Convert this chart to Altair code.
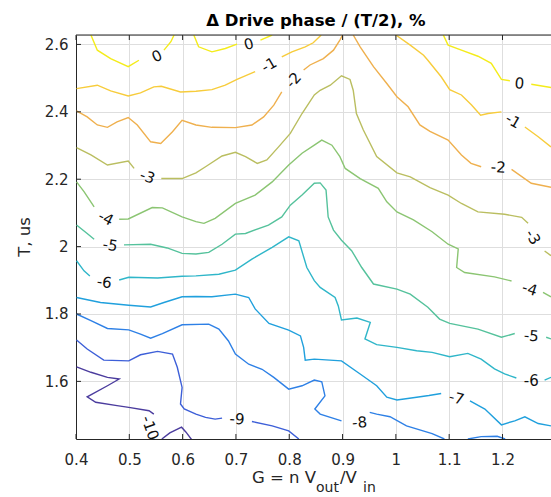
import altair as alt
import pandas as pd

# ---------------- data ----------------
LEVELS = ["0", "-1", "-2", "-3", "-4", "-5", "-6", "-7", "-8", "-9", "-10"]
LEVEL_COLORS = ["#F4EC1A", "#F7CC3B", "#EFB04E", "#BABE60", "#8BC572", "#55C29C",
                "#2FB6C9", "#20A0DD", "#2E80E6", "#3D5FD8", "#4B3C9E"]

X_TICKS = [0.4, 0.5, 0.6, 0.7, 0.8, 0.9, 1.0, 1.1, 1.2]
Y_TICKS = [1.6, 1.8, 2.0, 2.2, 2.4, 2.6]
X_DOMAIN = [0.4, 1.291]
Y_DOMAIN = [1.429, 2.628]

# level 0
L0_A_X = [0.428, 0.440, 0.465, 0.498, 0.518]
L0_A_Y = [2.628, 2.583, 2.558, 2.534, 2.553]
L0_B_X = [0.565, 0.578, 0.584]
L0_B_Y = [2.583, 2.608, 2.628]
L0_C_X = [0.621, 0.630, 0.655, 0.680, 0.702]
L0_C_Y = [2.628, 2.593, 2.578, 2.588, 2.601]
L0_D_X = [0.746, 0.768]
L0_D_Y = [2.613, 2.628]
L0_E_X = [1.089, 1.098, 1.123, 1.154, 1.179, 1.198, 1.214]
L0_E_Y = [2.628, 2.598, 2.583, 2.565, 2.544, 2.496, 2.492]
L0_F_X = [1.254, 1.291]
L0_F_Y = [2.482, 2.472]
# level -1
L1_A_X = [0.401, 0.440, 0.465, 0.498, 0.521, 0.546, 0.560, 0.596, 0.625, 0.655, 0.680, 0.702, 0.736]
L1_A_Y = [2.469, 2.479, 2.462, 2.447, 2.456, 2.474, 2.476, 2.459, 2.461, 2.466, 2.479, 2.496, 2.519]
L1_B_X = [0.786, 0.805, 0.830, 0.845, 0.860]
L1_B_Y = [2.563, 2.578, 2.593, 2.605, 2.628]
L1_C_X = [1.000, 1.027, 1.052, 1.060, 1.085, 1.101, 1.123, 1.142, 1.159, 1.173, 1.198]
L1_C_Y = [2.628, 2.598, 2.568, 2.553, 2.504, 2.466, 2.450, 2.420, 2.390, 2.395, 2.400]
L1_D_X = [1.242, 1.267, 1.291]
L1_D_Y = [2.355, 2.326, 2.296]
# level -2
L2_A_X = [0.401, 0.421, 0.440, 0.459, 0.477, 0.498, 0.515, 0.540, 0.559, 0.581, 0.599, 0.625,
          0.655, 0.699, 0.730, 0.752, 0.771, 0.786]
L2_A_Y = [2.403, 2.385, 2.361, 2.354, 2.370, 2.383, 2.361, 2.311, 2.306, 2.341, 2.375, 2.361,
          2.354, 2.353, 2.361, 2.385, 2.420, 2.459]
L2_B_X = [0.827, 0.839, 0.864, 0.883, 0.895, 0.900]
L2_B_Y = [2.524, 2.539, 2.558, 2.583, 2.613, 2.628]
L2_C_X = [0.920, 0.933, 0.958, 0.983, 1.002, 1.023, 1.045, 1.064, 1.098, 1.123, 1.141, 1.160]
L2_C_Y = [2.628, 2.593, 2.534, 2.484, 2.445, 2.415, 2.361, 2.342, 2.316, 2.272, 2.247, 2.237]
L2_D_X = [1.217, 1.254, 1.291]
L2_D_Y = [2.229, 2.188, 2.176]
# level -3
L3_A_X = [0.401, 0.428, 0.459, 0.498, 0.509]
L3_A_Y = [2.294, 2.272, 2.242, 2.254, 2.232]
L3_B_X = [0.560, 0.599, 0.625, 0.643, 0.674, 0.699, 0.718, 0.740, 0.758, 0.780, 0.802, 0.824,
          0.847, 0.858, 0.877, 0.898, 0.914, 0.920, 0.926, 0.939, 0.964, 1.002, 1.027, 1.064,
          1.098, 1.123, 1.154, 1.204, 1.236, 1.248]
L3_B_Y = [2.202, 2.202, 2.219, 2.237, 2.269, 2.280, 2.267, 2.247, 2.257, 2.296, 2.336, 2.395,
          2.450, 2.464, 2.479, 2.507, 2.496, 2.464, 2.395, 2.346, 2.267, 2.219, 2.207, 2.175,
          2.153, 2.128, 2.103, 2.096, 2.087, 2.069]
L3_C_X = [1.279, 1.291]
L3_C_Y = [1.987, 1.973]
# level -4
L4_A_X = [0.401, 0.415, 0.434]
L4_A_Y = [2.192, 2.163, 2.118]
L4_B_X = [0.481, 0.498, 0.543, 0.562, 0.599, 0.625, 0.640, 0.661, 0.699, 0.736, 0.768, 0.799,
          0.824, 0.847, 0.861, 0.880, 0.895, 0.905, 0.933, 0.967, 0.983, 1.002, 1.033, 1.068,
          1.098, 1.117, 1.114, 1.129, 1.185, 1.217]
L4_B_Y = [2.081, 2.082, 2.116, 2.115, 2.088, 2.074, 2.069, 2.084, 2.128, 2.153, 2.192, 2.242,
          2.277, 2.301, 2.316, 2.301, 2.267, 2.232, 2.202, 2.173, 2.133, 2.103, 2.079, 2.044,
          2.007, 1.993, 1.938, 1.923, 1.910, 1.898]
L4_C_X = [1.276, 1.291]
L4_C_Y = [1.864, 1.851]
# level -5
L5_A_X = [0.401, 0.421, 0.434]
L5_A_Y = [2.064, 2.039, 2.022]
L5_B_X = [0.490, 0.540, 0.571, 0.599, 0.625, 0.649, 0.674, 0.699, 0.718, 0.761, 0.786, 0.802,
          0.824, 0.847, 0.858, 0.869, 0.873, 0.883, 0.898, 0.917, 0.936, 0.958, 1.002, 1.027,
          1.060, 1.082, 1.101, 1.154, 1.198, 1.223]
L5_B_Y = [2.005, 2.007, 1.996, 1.980, 1.978, 1.983, 2.007, 2.037, 2.039, 2.064, 2.088, 2.123,
          2.153, 2.188, 2.189, 2.168, 2.088, 2.049, 2.019, 1.988, 1.938, 1.889, 1.874, 1.859,
          1.820, 1.785, 1.772, 1.755, 1.731, 1.742]
L5_C_X = [1.282, 1.291]
L5_C_Y = [1.731, 1.726]
# level -6
L6_A_X = [0.401, 0.415, 0.426]
L6_A_Y = [1.958, 1.928, 1.913]
L6_B_X = [0.481, 0.499, 0.553, 0.599, 0.625, 0.668, 0.699, 0.730, 0.768, 0.799, 0.818, 0.833,
          0.847, 0.858, 0.886, 0.892, 0.898, 0.927, 0.952, 0.942, 0.964, 1.002, 1.039, 1.068,
          1.101, 1.135, 1.160, 1.185, 1.204, 1.226]
L6_B_Y = [1.901, 1.909, 1.907, 1.912, 1.913, 1.918, 1.930, 1.963, 1.998, 2.029, 2.017, 1.938,
          1.899, 1.879, 1.849, 1.824, 1.782, 1.788, 1.775, 1.726, 1.709, 1.701, 1.691, 1.686,
          1.673, 1.683, 1.666, 1.637, 1.622, 1.610]
L6_C_X = [1.279, 1.291]
L6_C_Y = [1.604, 1.612]
# level -7
L7_A_X = [0.401, 0.446, 0.499, 0.540, 0.565, 0.599, 0.625, 0.655, 0.699, 0.724, 0.736, 0.762,
          0.799, 0.821, 0.827, 0.830, 0.847, 0.898, 0.933, 0.964, 0.983, 1.002, 1.039, 1.062, 1.085]
L7_A_Y = [1.849, 1.834, 1.826, 1.821, 1.834, 1.851, 1.852, 1.851, 1.859, 1.849, 1.815, 1.772,
          1.752, 1.735, 1.701, 1.663, 1.666, 1.661, 1.622, 1.587, 1.553, 1.545, 1.553, 1.558, 1.564]
L7_B_X = [1.139, 1.167, 1.198, 1.223, 1.242, 1.267, 1.291]
L7_B_Y = [1.542, 1.518, 1.471, 1.483, 1.495, 1.475, 1.468]
# level -8
L8_A_X = [0.401, 0.428, 0.459, 0.499, 0.521, 0.540, 0.562, 0.599, 0.649, 0.668, 0.686, 0.699,
          0.724, 0.749, 0.771, 0.799, 0.824, 0.847, 0.861, 0.867, 0.848, 0.858, 0.898]
L8_A_Y = [1.800, 1.780, 1.757, 1.753, 1.740, 1.728, 1.742, 1.768, 1.770, 1.755, 1.720, 1.681,
          1.651, 1.636, 1.612, 1.577, 1.587, 1.604, 1.599, 1.557, 1.518, 1.503, 1.483]
L8_B_X = [0.951, 0.964, 0.989, 1.020, 1.068, 1.091]
L8_B_Y = [1.508, 1.503, 1.495, 1.468, 1.445, 1.429]
L8_C_X = [1.135, 1.160, 1.190, 1.205]
L8_C_Y = [1.429, 1.436, 1.437, 1.429]
# level -9
L9_A_X = [0.401, 0.421, 0.452, 0.499, 0.521, 0.553, 0.581, 0.590, 0.599, 0.596, 0.603, 0.625,
          0.643, 0.661, 0.674]
L9_A_Y = [1.723, 1.696, 1.663, 1.661, 1.679, 1.689, 1.681, 1.642, 1.582, 1.533, 1.518, 1.503,
          1.493, 1.488, 1.491]
L9_B_X = [0.730, 0.768, 0.799, 0.818]
L9_B_Y = [1.481, 1.468, 1.453, 1.429]
# level -10
L10_A_X = [0.401, 0.428, 0.459, 0.481, 0.459, 0.421, 0.437, 0.477, 0.499, 0.537, 0.546]
L10_A_Y = [1.643, 1.627, 1.612, 1.607, 1.587, 1.554, 1.538, 1.528, 1.523, 1.513, 1.503]
L10_B_X = [0.561, 0.576, 0.598, 0.606, 0.617]
L10_B_Y = [1.429, 1.447, 1.464, 1.450, 1.427]

# inline contour labels
LABEL_TEXT = ["0", "0", "0", "-1", "-1", "-2", "-2", "-3", "-3", "-4", "-4", "-5", "-5",
              "-6", "-6", "-7", "-8", "-9", "-10"]
LABEL_X = [0.552, 0.724, 1.232, 0.762, 1.220, 0.808, 1.192, 0.534, 1.257, 0.456, 1.251,
           0.464, 1.254, 0.453, 1.254, 1.114, 0.932, 0.702, 0.539]
LABEL_Y = [2.565, 2.601, 2.484, 2.539, 2.373, 2.494, 2.235, 2.207, 2.028, 2.084, 1.874,
           2.004, 1.735, 1.894, 1.602, 1.550, 1.478, 1.488, 1.462]
LABEL_ANGLE = [335, 345, 5, 330, 30, 312, 3, 20, 60, 27, 18, 10, 5, 8, 0, 15, 355, 3, 70]

TITLE = "\u0394 Drive phase / (T/2), %"
Y_TITLE = "T, us"
XT_PARTS = ["G = n V", "out", "/V", "in"]

# ---------------- build tables ----------------
SEGMENTS = [
    ("0", L0_A_X, L0_A_Y), ("0", L0_B_X, L0_B_Y), ("0", L0_C_X, L0_C_Y),
    ("0", L0_D_X, L0_D_Y), ("0", L0_E_X, L0_E_Y), ("0", L0_F_X, L0_F_Y),
    ("-1", L1_A_X, L1_A_Y), ("-1", L1_B_X, L1_B_Y), ("-1", L1_C_X, L1_C_Y), ("-1", L1_D_X, L1_D_Y),
    ("-2", L2_A_X, L2_A_Y), ("-2", L2_B_X, L2_B_Y), ("-2", L2_C_X, L2_C_Y), ("-2", L2_D_X, L2_D_Y),
    ("-3", L3_A_X, L3_A_Y), ("-3", L3_B_X, L3_B_Y), ("-3", L3_C_X, L3_C_Y),
    ("-4", L4_A_X, L4_A_Y), ("-4", L4_B_X, L4_B_Y), ("-4", L4_C_X, L4_C_Y),
    ("-5", L5_A_X, L5_A_Y), ("-5", L5_B_X, L5_B_Y), ("-5", L5_C_X, L5_C_Y),
    ("-6", L6_A_X, L6_A_Y), ("-6", L6_B_X, L6_B_Y), ("-6", L6_C_X, L6_C_Y),
    ("-7", L7_A_X, L7_A_Y), ("-7", L7_B_X, L7_B_Y),
    ("-8", L8_A_X, L8_A_Y), ("-8", L8_B_X, L8_B_Y), ("-8", L8_C_X, L8_C_Y),
    ("-9", L9_A_X, L9_A_Y), ("-9", L9_B_X, L9_B_Y),
    ("-10", L10_A_X, L10_A_Y), ("-10", L10_B_X, L10_B_Y),
]
rows = []
for sid, (lvl, xs_, ys_) in enumerate(SEGMENTS):
    for i, (xv, yv) in enumerate(zip(xs_, ys_)):
        rows.append({"x": xv, "y": yv, "level": lvl, "seg": sid, "ord": i})
lines_df = pd.DataFrame(rows)
labels_df = pd.DataFrame({"x": LABEL_X, "y": LABEL_Y, "t": LABEL_TEXT, "a": LABEL_ANGLE})
xt_df = pd.DataFrame({"x": X_TICKS})
yt_df = pd.DataFrame({"y": Y_TICKS})

W, H = 475, 404
FONT = "DejaVu Sans"
AX = "#262626"

xs = alt.Scale(domain=X_DOMAIN, nice=False, zero=False)
ys = alt.Scale(domain=Y_DOMAIN, nice=False, zero=False)

x_axis = alt.Axis(values=X_TICKS,
                  labelExpr="format(datum.value,'.1f') == '1.0' ? '1' : format(datum.value,'.1f')",
                  grid=True, gridColor="#DEDEDE", gridWidth=1, ticks=False, labelFlush=False,
                  domainColor=AX, domainWidth=1, labelFont=FONT, labelFontSize=15,
                  labelColor=AX, labelPadding=13, title=None, orient="bottom")
y_axis = alt.Axis(values=Y_TICKS,
                  labelExpr="format(datum.value,'.1f') == '2.0' ? '2' : format(datum.value,'.1f')",
                  grid=True, gridColor="#DEDEDE", gridWidth=1, ticks=False, labelFlush=False,
                  domainColor=AX, domainWidth=1, labelFont=FONT, labelFontSize=15,
                  labelColor=AX, labelPadding=8, title=None)

# y axis is shared: give every layer the same axis definition
lines = alt.Chart(lines_df).mark_line(clip=True, strokeWidth=1.4).encode(
    x=alt.X("x:Q", scale=xs, axis=x_axis),
    y=alt.Y("y:Q", scale=ys, axis=y_axis),
    color=alt.Color("level:N", scale=alt.Scale(domain=LEVELS, range=LEVEL_COLORS), legend=None),
    detail="seg:N",
    order="ord:Q",
)

labels = alt.Chart(labels_df).mark_text(font=FONT, fontSize=15, color="#111111",
                                         align="center", baseline="middle").encode(
    x=alt.X("x:Q", scale=xs, axis=None), y=alt.Y("y:Q", scale=ys, axis=y_axis),
    text="t:N", angle=alt.Angle("a:Q", scale=None),
)

top_ticks = alt.Chart(xt_df).mark_rule(color=AX, strokeWidth=1).encode(
    x=alt.X("x:Q", scale=xs, axis=None),
    y=alt.value(0), y2=alt.value(5),
)
top_border = alt.Chart(pd.DataFrame({"k": [0]})).mark_rule(color=AX, strokeWidth=1).encode(
    x=alt.value(0), x2=alt.value(W), y=alt.value(0),
)
bottom_ticks = alt.Chart(xt_df).mark_rule(color=AX, strokeWidth=1).encode(
    x=alt.X("x:Q", scale=xs, axis=None), y=alt.value(H), y2=alt.value(H - 5),
)
left_ticks = alt.Chart(yt_df).mark_rule(color=AX, strokeWidth=1).encode(
    y=alt.Y("y:Q", scale=ys, axis=y_axis), x=alt.value(0), x2=alt.value(5),
)

title_txt = alt.Chart(pd.DataFrame({"t": [TITLE]})).mark_text(
    font=FONT, fontSize=16.5, fontWeight="bold", color="#000000", align="center",
    baseline="alphabetic").encode(text="t:N", x=alt.value(240), y=alt.value(-9))
ytitle = alt.Chart(pd.DataFrame({"t": [Y_TITLE]})).mark_text(
    font=FONT, fontSize=16.5, color=AX, align="center", baseline="alphabetic", angle=270
).encode(text="t:N", x=alt.value(-46), y=alt.value(202))

XT_SIZES = [16.5, 14, 16.5, 14]
XT_X = [176, 240, 264, 287]
XT_Y = [448, 457, 448, 457]
xt_layers = []
for part, size, px, py in zip(XT_PARTS, XT_SIZES, XT_X, XT_Y):
    xt_layers.append(alt.Chart(pd.DataFrame({"t": [part]})).mark_text(
        font=FONT, fontSize=size, color=AX, align="left", baseline="alphabetic"
    ).encode(text="t:N", x=alt.value(px), y=alt.value(py)))

chart = alt.layer(lines, labels, top_ticks, top_border, bottom_ticks, left_ticks, title_txt,
                  ytitle, *xt_layers).resolve_axis(x="independent").properties(
    width=W, height=H,
    autosize=alt.AutoSizeParams(type="none"),
    padding={"left": 76, "top": 35, "right": 0, "bottom": 58},
).configure_view(stroke=None).configure(background="white")

chart.save("out.html", embed_options={"renderer": "svg", "actions": False})
